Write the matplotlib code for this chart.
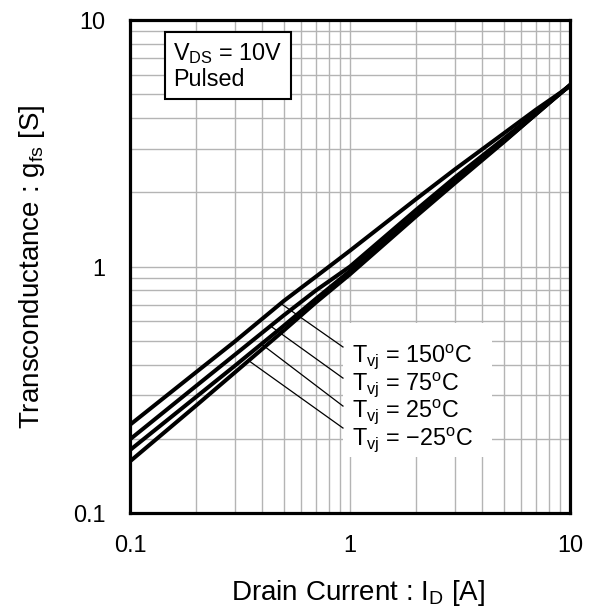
import numpy as np
import matplotlib
matplotlib.use("Agg")
import matplotlib.pyplot as plt
from matplotlib.ticker import FixedLocator, LogLocator, NullFormatter

plt.rcParams['font.family'] = ['Liberation Sans', 'DejaVu Sans']
plt.rcParams['mathtext.fontset'] = 'custom'
plt.rcParams['mathtext.rm'] = 'Liberation Sans'
plt.rcParams['mathtext.it'] = 'Liberation Sans:italic'

# drain current [A] and transconductance [S]
drain_current = [0.1, 0.2, 0.3, 0.5, 0.7, 1, 2, 3, 5, 7, 10]
gfs_150 = [0.228, 0.373, 0.497, 0.725, 0.91, 1.16, 1.88, 2.48, 3.47, 4.33, 5.4]
gfs_75 = [0.199, 0.328, 0.439, 0.634, 0.80, 1.0, 1.70, 2.3, 3.3, 4.2, 5.42]
gfs_25 = [0.180, 0.296, 0.396, 0.575, 0.74, 0.96, 1.63, 2.22, 3.22, 4.15, 5.45]
gfs_m25 = [0.162, 0.273, 0.372, 0.55, 0.715, 0.93, 1.60, 2.18, 3.2, 4.15, 5.45]

curves = [gfs_150, gfs_75, gfs_25, gfs_m25]
labels = ["150", "75", "25", "\u221225"]
# current where each leader line leaves its curve
leader_current = [0.49, 0.44, 0.40, 0.35]

fig = plt.figure(figsize=(5.96, 6.13), dpi=100)
ax = fig.add_axes([0.2181, 0.1631, 0.7383, 0.8042])
ax.set_xscale('log')
ax.set_yscale('log')
ax.set_xlim(0.1, 10)
ax.set_ylim(0.1, 10)

ax.xaxis.set_major_locator(FixedLocator([0.1, 1, 10]))
ax.yaxis.set_major_locator(FixedLocator([0.1, 1, 10]))
ax.xaxis.set_minor_locator(LogLocator(base=10, subs=np.arange(2, 10)))
ax.yaxis.set_minor_locator(LogLocator(base=10, subs=np.arange(2, 10)))
ax.xaxis.set_minor_formatter(NullFormatter())
ax.yaxis.set_minor_formatter(NullFormatter())
ax.set_xticklabels(["0.1", "1", "10"])
ax.set_yticklabels(["0.1", "1", "10"])
ax.tick_params(which='both', length=0, labelsize=16.8)
ax.tick_params(axis='x', pad=15)
ax.tick_params(axis='y', pad=17.5)

ax.grid(which='both', color='#b4b4b4', linewidth=1.0)
ax.set_axisbelow(True)
for s in ax.spines.values():
    s.set_linewidth(2.3)

for g in curves:
    ax.plot(drain_current, g, color='black', linewidth=2.9, zorder=3)

# white patch behind the temperature labels
ax.add_patch(plt.Rectangle((0.484, 0.114), 0.339, 0.271, transform=ax.transAxes,
                           facecolor='white', edgecolor='none', zorder=2))

label_end_y = [0.4716, 0.3527, 0.2716, 0.2212]
label_base = [0.307, 0.2495, 0.1947, 0.138]
log_i = np.log10(drain_current)
for g, lab, ic, ey, by in zip(curves, labels, leader_current, label_end_y, label_base):
    gy = 10 ** np.interp(np.log10(ic), log_i, np.log10(g))
    ax.plot([ic, 0.929], [gy * 0.985, ey], color='black', linewidth=0.9, zorder=2.5)
    ax.text(0.5045, by, r"T$_{\rm vj}$ = " + lab + r"$^{\rm o}$C", transform=ax.transAxes,
            fontsize=16.8, ha='left', va='baseline', zorder=4)

ax.text(0.098, 0.957, "V$_{\\rm DS}$ = 10V\nPulsed", transform=ax.transAxes,
        fontsize=16.8, ha='left', va='top', linespacing=1.1, zorder=4,
        bbox=dict(boxstyle='square,pad=0.36', facecolor='white', edgecolor='black', linewidth=1.5))

ax.set_xlabel("Drain Current : I$_{\\rm D}$ [A]", fontsize=20, labelpad=15, x=0.518)
ax.set_ylabel("Transconductance : g$_{\\rm fs}$ [S]", fontsize=20, labelpad=19)

fig.savefig("out.png", dpi=100)
